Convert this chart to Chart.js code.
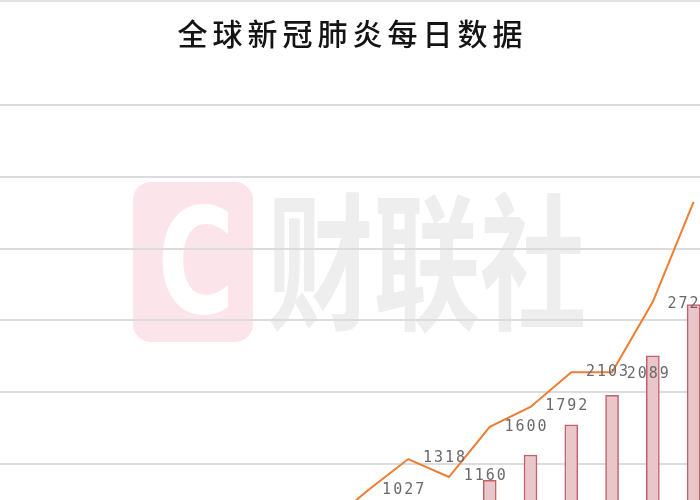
<!DOCTYPE html>
<html>
<head>
<meta charset="utf-8">
<script src="https://cdn.jsdelivr.net/npm/chart.js@4/dist/chart.umd.min.js"></script>
<style>
  html, body { margin: 0; padding: 0; background: #fff; overflow: hidden; width: 700px; height: 500px; }
  #topline { position: absolute; left: 0; top: 0; width: 700px; height: 2px; background: #e3e3e3; z-index: 2; }
  #chart { position: absolute; left: -20px; top: 0; }
</style>
</head>
<body>
<div id="topline"></div>
<canvas id="chart" width="734" height="500"></canvas>
<script>
// 日期（x 轴隐藏，只用来排列柱子和折线）
const dates = ['3月8日', '3月9日', '3月10日', '3月11日', '3月12日', '3月13日', '3月14日', '3月15日', '3月16日',
  '3月17日', '3月18日', '3月19日', '3月20日', '3月21日', '3月22日', '3月23日', '3月24日', '3月25日'];
// 折线：每日新增确诊
const newCases = [null, null, null, null, null, null, null, null, 1500,
  6300, 10700, 8200, 15200, 17950, 22800, 22800, 32600, 46500];
// 柱子
const barValues = [null, null, null, null, null, null, null, null, null,
  null, null, null, 1120, 1350, 1625, 1895, 2255, 2720];
// 数据标签：每日新增死亡
const newDeaths = [null, null, null, null, null, null, null, null, null,
  null, 1027, 1318, 1160, 1600, 1792, 2103, 2089, 2727];
// 网格线（刻度文字没露出来）
const gridTicks = [10000, 20000, 30000, 40000, 50000, 60000];

const chartTitle = '全球新冠肺炎每日数据';
const SHIFT = 20; // canvas 往左挪了 20px

// 水印 + 标题
const decoPlugin = {
  id: 'deco',
  beforeDraw(chart) {
    const ctx = chart.ctx;
    ctx.save();
    // 粉色圆角方块
    ctx.fillStyle = '#fce5ea';
    ctx.beginPath();
    ctx.roundRect(133 + SHIFT, 182, 120, 160, 18);
    ctx.fill();
    // 白色 C
    ctx.save();
    ctx.translate(196 + SHIFT, 313);
    ctx.scale(0.72, 1);
    ctx.fillStyle = '#ffffff';
    ctx.font = 'bold 146px "DejaVu Sans"';
    ctx.textAlign = 'center';
    ctx.textBaseline = 'alphabetic';
    ctx.fillText('C', 0, 0);
    ctx.restore();
    // 财联社
    ctx.save();
    ctx.translate(267 + SHIFT, 262);
    ctx.scale(0.72, 1);
    ctx.fillStyle = '#eeeeee';
    ctx.font = 'bold 148px "Noto Sans CJK SC"';
    ctx.textAlign = 'left';
    ctx.textBaseline = 'middle';
    ctx.fillText('财联社', 0, 0);
    ctx.restore();
    // 标题
    ctx.fillStyle = '#141414';
    ctx.font = '500 30px "Noto Sans CJK SC"';
    ctx.letterSpacing = '5px';
    ctx.textAlign = 'center';
    ctx.textBaseline = 'middle';
    ctx.fillText(chartTitle, 350 + SHIFT + 2.5, 34);
    ctx.restore();
  }
};

// 数据标签
const labelPlugin = {
  id: 'deathLabels',
  afterDatasetsDraw(chart) {
    const ctx = chart.ctx;
    const xs = chart.scales.x, ys = chart.scales.yD;
    ctx.save();
    ctx.font = '15px "DejaVu Sans Mono"';
    ctx.letterSpacing = '2px';
    ctx.fillStyle = '#6a6a6a';
    ctx.textAlign = 'center';
    ctx.textBaseline = 'middle';
    newDeaths.forEach(function (v, i) {
      if (v == null) return;
      ctx.fillText(String(v), xs.getPixelForValue(i) - 4, ys.getPixelForValue(v));
    });
    ctx.restore();
  }
};

const ctx = document.getElementById('chart');
new Chart(ctx, {
  type: 'bar',
  data: {
    labels: dates,
    datasets: [
      {
        type: 'line',
        label: '新增确诊',
        data: newCases,
        yAxisID: 'y',
        borderColor: '#ed7d31',
        borderWidth: 2,
        pointRadius: 0,
        tension: 0,
        order: 0,
      },
      {
        type: 'bar',
        label: '柱',
        data: barValues,
        yAxisID: 'yD',
        backgroundColor: '#e8c6ca',
        borderColor: '#c4606a',
        borderWidth: 1.5,
        barThickness: 13,
        order: 1,
      },
    ],
  },
  options: {
    responsive: false,
    animation: false,
    layout: { padding: { top: 105, left: 0, right: 0, bottom: 0 } },
    plugins: {
      legend: { display: false },
      title: { display: false },
      tooltip: { enabled: false },
    },
    scales: {
      x: { display: false, offset: true },
      y: {
        position: 'left',
        min: 5000,
        max: 60000,
        ticks: { display: false },
        afterBuildTicks: function (axis) {
          axis.ticks = gridTicks.map(function (v) { return { value: v }; });
        },
        grid: { color: '#dcdcdc', lineWidth: 2, drawTicks: false },
        border: { display: false },
      },
      yD: { display: false, min: 940, max: 4540 },
    },
  },
  plugins: [decoPlugin, labelPlugin],
});
</script>
</body>
</html>
